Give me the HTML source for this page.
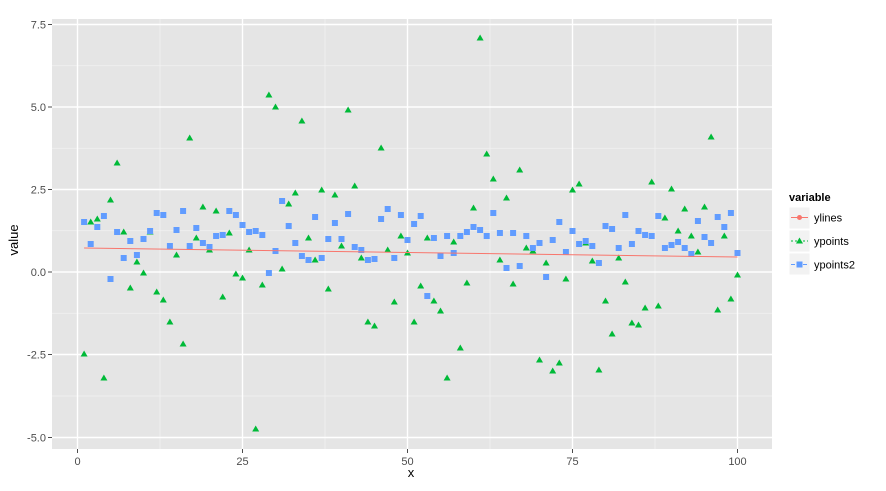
<!DOCTYPE html>
<html><head><meta charset="utf-8"><style>
html,body{margin:0;padding:0;background:#fff}
svg{display:block;font-family:"Liberation Sans",sans-serif}
</style></head><body>
<svg id="s" width="886" height="491" viewBox="0 0 886 491" xmlns="http://www.w3.org/2000/svg">
<rect x="52" y="19" width="720" height="430" fill="#E5E5E5"/>
<g id="grid"></g>
<g id="pts"></g>
<line x1="84.1" y1="248" x2="737.5" y2="257" stroke="#F8766D" stroke-width="1"/>
<g font-size="11" fill="#4d4d4d" text-anchor="end">
<text x="46" y="28.5">7.5</text><text x="46" y="111">5.0</text><text x="46" y="193.5">2.5</text><text x="46" y="276">0.0</text><text x="46" y="358.5">-2.5</text><text x="46" y="441.5">-5.0</text>
</g>
<g font-size="11" fill="#4d4d4d" text-anchor="middle">
<text x="77.5" y="465">0</text><text x="242.5" y="465">25</text><text x="407.5" y="465">50</text><text x="572.5" y="465">75</text><text x="737.5" y="465">100</text>
</g>
<g stroke="#4d4d4d" stroke-width="1">
<line x1="48" y1="24.5" x2="52" y2="24.5"/><line x1="48" y1="107" x2="52" y2="107"/><line x1="48" y1="189.5" x2="52" y2="189.5"/><line x1="48" y1="272" x2="52" y2="272"/><line x1="48" y1="354.5" x2="52" y2="354.5"/><line x1="48" y1="437.5" x2="52" y2="437.5"/>
<line x1="77.5" y1="449" x2="77.5" y2="453"/><line x1="242.5" y1="449" x2="242.5" y2="453"/><line x1="407.5" y1="449" x2="407.5" y2="453"/><line x1="572.5" y1="449" x2="572.5" y2="453"/><line x1="737.5" y1="449" x2="737.5" y2="453"/>
</g>
<text x="411" y="477" font-size="13" text-anchor="middle" fill="#000">x</text>
<text transform="translate(18,240) rotate(-90)" font-size="13" text-anchor="middle" fill="#000">value</text>
<text x="789" y="201" font-size="11" font-weight="bold">variable</text>
<g>
<rect x="789" y="207" width="21" height="22" fill="#F2F2F2" stroke="#fff"/>
<rect x="789" y="230" width="21" height="22" fill="#F2F2F2" stroke="#fff"/>
<rect x="789" y="253" width="21" height="22" fill="#F2F2F2" stroke="#fff"/>
<line x1="791" y1="217.5" x2="808" y2="217.5" stroke="#F8766D"/><circle cx="799.5" cy="217.5" r="2.5" fill="#F8766D"/>
<line x1="791" y1="241" x2="808" y2="241" stroke="#00BA38" stroke-dasharray="2,2"/><path d="M799.5 237.5 L803 243.5 L796 243.5Z" fill="#00BA38"/>
<line x1="791" y1="264.5" x2="808" y2="264.5" stroke="#619CFF" stroke-dasharray="4,2"/><rect x="796.5" y="261.5" width="6" height="6" fill="#619CFF"/>
</g>
<g font-size="11" fill="#000"><text x="814" y="221.5">ylines</text><text x="814" y="245">ypoints</text><text x="814" y="268.5">ypoints2</text></g>
</svg>
<script>
var NS="http://www.w3.org/2000/svg";
function el(p,t,a){var e=document.createElementNS(NS,t);for(var k in a)e.setAttribute(k,a[k]);p.appendChild(e);return e;}
var g=document.getElementById("grid");
[12.5,37.5,62.5,87.5].forEach(function(v){var x=77.5+6.6*v;el(g,"line",{x1:x,x2:x,y1:19,y2:449,stroke:"#F2F2F2","stroke-width":0.8});});
[65.75,148.25,230.75,313.25,396].forEach(function(y){el(g,"line",{x1:52,x2:772,y1:y,y2:y,stroke:"#F2F2F2","stroke-width":0.8});});
[0,25,50,75,100].forEach(function(v){var x=77.5+6.6*v;el(g,"line",{x1:x,x2:x,y1:19,y2:449,stroke:"#fff","stroke-width":1.4});});
[24.5,107,189.5,272,354.5,437.5].forEach(function(y){el(g,"line",{x1:52,x2:772,y1:y,y2:y,stroke:"#fff","stroke-width":1.4});});
var B=[222,244,227,216,279,232,258,241,255,239,231,213,215,246,230,211,246,228,243,247,236,235,211,215,225,232,231,235,273,251,201,226,243,256,260,217,258,239,223,239,214,247,250,260,259,219,209,258,215,240,224,216,296,238,256,236,253,236,232,227,230,236,213,233,268,233,266,236,248,243,277,240,222,252,231,244,241,246,263,226,229,248,215,244,231,235,236,216,248,245,242,248,254,221,237,243,217,227,213,253];
var G=[354,222,219,378,200,163,232,288,262,273,232,292,300,322,255,344,138,238,207,250,211,297,233,274,278,250,429,285,95,107,269,204,193,121,238,260,190,289,195,246,110,186,258,322,326,148,250,302,236,253,322,286,238,301,311,378,242,348,283,208,38,154,179,260,198,284,170,248,251,360,263,371,363,279,190,184,243,261,370,301,334,258,282,323,325,308,182,306,218,189,231,209,236,252,207,137,310,236,299,275];
var p=document.getElementById("pts");
for(var i=0;i<100;i++){var x=77.5+6.6*(i+1);
el(p,"path",{d:"M"+x+" "+(G[i]-3.5)+" L"+(x+3.5)+" "+(G[i]+2.5)+" L"+(x-3.5)+" "+(G[i]+2.5)+"Z",fill:"#00BA38"});
el(p,"rect",{x:x-3,y:B[i]-3,width:6,height:6,fill:"#619CFF"});}
</script>
</body></html>
